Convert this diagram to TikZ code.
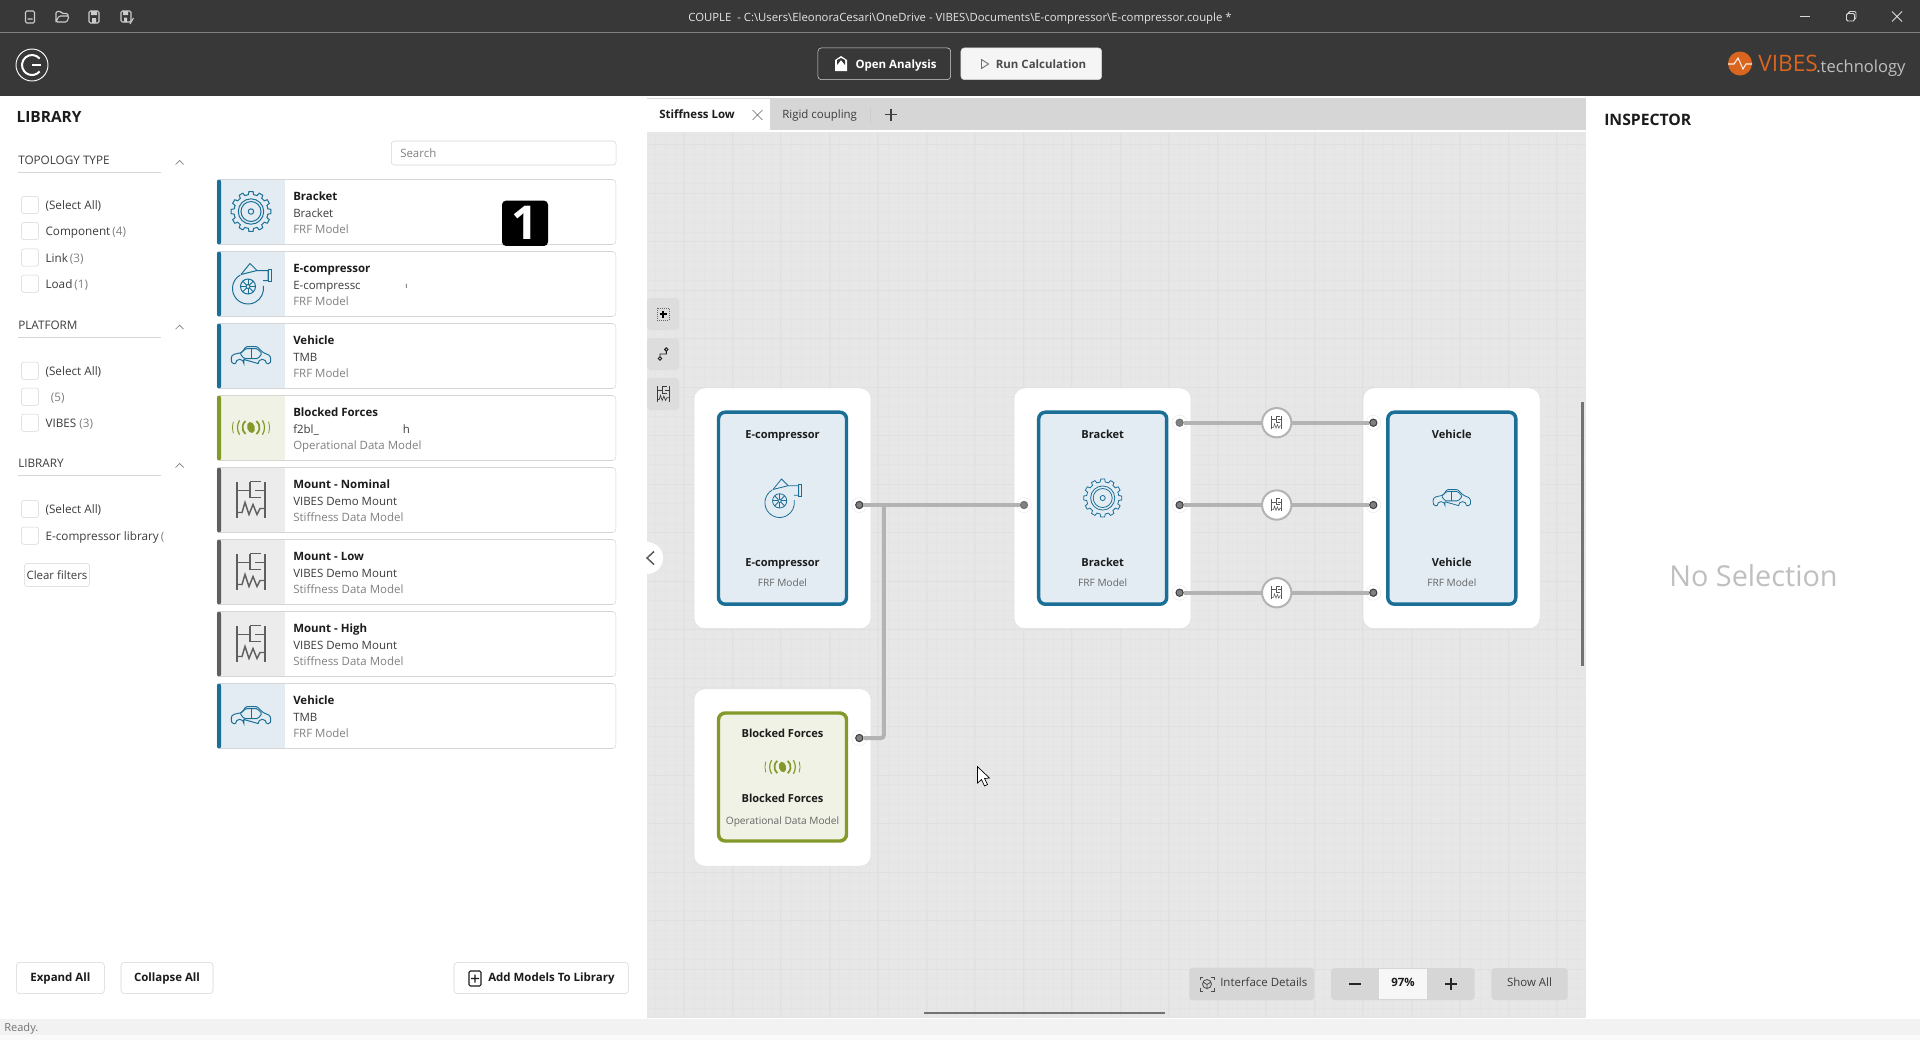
\documentclass[tikz,border=0pt]{standalone}
\usepackage{fontspec}
\setmainfont{Open Sans}
\definecolor{barc}{HTML}{383838}
\definecolor{canvasc}{HTML}{E7E7E7}
\definecolor{gridc}{HTML}{E4E4E4}
\definecolor{gridmaj}{HTML}{E0E0E0}
\definecolor{stripc}{HTML}{D6D6D6}
\definecolor{bluec}{HTML}{1B6F96}
\definecolor{bluebg}{HTML}{E3ECF3}
\definecolor{greenc}{HTML}{83992A}
\definecolor{greenbg}{HTML}{EFF2E4}
\definecolor{mountc}{HTML}{5F5F5F}
\definecolor{mountbg}{HTML}{ECECEC}
\definecolor{linec}{HTML}{D5D5D5}
\definecolor{wirec}{HTML}{B3B3B3}
\definecolor{greyc}{HTML}{808080}
\definecolor{inkc}{HTML}{1C1C1C}
\definecolor{subc}{HTML}{3C3C3C}
\definecolor{orangec}{HTML}{D9651F}
\tikzset{
  lbl/.style={inner sep=0pt, anchor=mid west, text=inkc},
  mid/.style={inner sep=0pt, anchor=mid, text=inkc},
  cardbox/.style={draw=linec, fill=white, rounded corners=2.5pt, minimum width=299pt, minimum height=48.75pt, inner sep=0pt},
  chkbox/.style={draw=linec, fill=white, rounded corners=2pt, minimum size=13pt, inner sep=0pt},
  btn/.style={draw=#1, rounded corners=2.5pt, inner sep=0pt, text=inkc},
  panelbox/.style={draw=gridmaj, fill=white, rounded corners=8pt, inner sep=0pt, minimum width=132.75pt},
  modelbox/.style={draw=#1, line width=2.6pt, rounded corners=5pt, inner sep=0pt, minimum width=96pt},
  portdot/.style={circle, fill=#1, draw=black!75, line width=.8pt, inner sep=0pt, minimum size=5.4pt},
  mountnode/.style={circle, draw=wirec, line width=1.5pt, fill=white, inner sep=0pt, minimum size=22pt},
  wire/.style={draw=wirec, line width=3pt},
  toolbtn/.style={fill=#1, rounded corners=2.5pt, inner sep=0pt, minimum width=24pt, minimum height=24pt},
  gearicon/.pic={
    \draw plot[domain=0:360, samples=121] (\x:{17+3*(cos(12*\x)>0)}) -- cycle;
    \draw (0,0) circle (12.7);
    \draw (0,0) circle (10);
    \draw (0,0) circle (2.7);
  },
  turboicon/.pic={
    \draw (-3,5) ++(-120:15.5) arc[start angle=-120, end angle=-370, radius=15.5];
    \draw (-10,-9) -- (-1,-20) -- (6,-13) -- (17,-13) -- (17,-3) -- (12,-3);
    \draw (-10,-9) -- (6,-13);
    \draw (17,-14.5) rectangle (20,-2);
    \draw (-3,3) circle (7.5);
    \draw (-3,3) circle (2);
    \foreach \a in {0,45,...,315} {\draw (-3,3) ++(\a:2) -- ++(\a:5.5);}
  },
  caricon/.pic={
    \draw[rounded corners=1pt] (-15.5,8) -- (-19,8) -- (-20,2) -- (-18,-1) -- (-9,-3) -- (-5,-9) -- (6,-9) -- (12,-3) -- (19,0) -- (20,5) -- (19,8) -- (15.5,8);
    \draw (15.5,8) arc[start angle=0, end angle=-180, radius=4.2] -- (-7.1,4) -- (-7.1,8) arc[start angle=0, end angle=-180, radius=4.2];
    \draw[rounded corners=1pt] (-11,-2) -- (-5,-7) -- (6,-7) -- (11,-2) -- (7,3) -- (-7,3) -- cycle;
    \draw (0,-7) -- (0,3);
  },
  wavesicon/.pic={
    \fill[rotate=15] (0,0) ellipse (3.8 and 5.6);
    \foreach \r/\w/\s in {8.5/1.3pt/50,13.5/.9pt/32,18.5/.6pt/18} {
      \draw[line width=\w] (180-\s:\r) arc[start angle=180-\s, end angle=180+\s, radius=\r];
      \draw[line width=\w] (-\s:\r) arc[start angle=-\s, end angle=\s, radius=\r];
    }
  },
  mounticon/.pic={
    \draw (-14,-18) -- (-14,18) (14,-18) -- (14,18);
    \draw (-14,-9) -- (-1,-9) (-1,-18) -- (10,-18) (-1,-18) -- (-1,-2) -- (10,-2) (4,-9) -- (14,-9);
    \draw (-14,13) -- (-9,13) -- (-6,3) -- (-2,15) -- (2,5) -- (6,15) -- (9,9) -- (14,9);
  },
}
\begin{document}
\begin{tikzpicture}[x=0.75pt, y=-0.75pt]
\useasboundingbox (0,0) rectangle (1920,1040);
\fill[white] (0,0) rectangle (1920,1040);
\fill[barc] (0,0) rectangle (1920,96);
\draw[greyc, line width=.7pt] (0,32) -- (1920,32);
\fill[black!5] (0,1019) rectangle (1920,1035);
\fill[black!2] (0,1035) rectangle (1920,1040);
\fill[canvasc] (647,132) rectangle (1586,1017);
\foreach \i in {1,...,96} {
  \draw[gridc, line width=.35pt] (645.7+\i*9.7,132) -- (645.7+\i*9.7,1017);
}
\foreach \i in {0,...,91} {
  \draw[gridc, line width=.35pt] (647,134.8+\i*9.7) -- (1586,134.8+\i*9.7);
}
\foreach \i in {0,...,18} {
  \draw[gridmaj, line width=.35pt] (683.7+\i*48.5,132) -- (683.7+\i*48.5,1017);
}
\foreach \i in {0,...,17} {
  \draw[gridmaj, line width=.35pt] (647,144.3+\i*48.5) -- (1586,144.3+\i*48.5);
}
\fill[stripc] (647,98) rectangle (1586,130);
\fill[white] (647,99) rectangle (770,130);
% title bar
\draw[white!80!black, line width=.8pt, rounded corners=1pt] (25.5,11) rectangle (34.5,23) (27.5,19) -- (32.5,19);
\draw[white!80!black, line width=.8pt, rounded corners=1pt] (56,22) -- (56,11.5) -- (61,11.5) -- (62,13.5) -- (68,13.5) -- (68,16) (56,22) -- (59,16) -- (69,16) -- (67,22) -- cycle;
\draw[white!80!black, line width=.8pt, rounded corners=1pt] (89,11) rectangle (99,23);
\fill[white!80!black] (91,11) rectangle (97,15) (92,18) rectangle (96,23);
\draw[white!80!black, line width=.8pt, rounded corners=1pt] (121,11) rectangle (131,22);
\fill[white!80!black] (123,11) rectangle (128,15) (124,17.5) rectangle (127,22);
\draw[white!80!black, line width=.8pt] (130,24) -- (133.5,18);
\node[mid, text=white!90!black, font=\fontsize{8.5}{11}\selectfont] (apptitle) at (960,18) {COUPLE\ \ - C:\textbackslash Users\textbackslash EleonoraCesari\textbackslash OneDrive - VIBES\textbackslash Documents\textbackslash E-compressor\textbackslash E-compressor.couple *};
\draw[white!85!black, line width=.8pt] (1800,16.5) -- (1810,16.5);
\draw[white!85!black, line width=.7pt, rounded corners=1pt] (1846.5,13.5) rectangle (1854.5,21) (1848.5,13) -- (1848.5,11.5) -- (1856,11.5) -- (1856,19) -- (1855,19);
\draw[white!85!black, line width=.7pt] (1892,11.5) -- (1902,21.5) (1892,21.5) -- (1902,11.5);
% header
\draw[white, line width=.7pt] (32,65) circle (16);
\draw[white, line width=1.5pt] (32,65) ++(-40:10) arc[start angle=-40, end angle=-320, radius=10];
\draw[white, line width=1.6pt] (32,65) -- (41,65);
\node[btn=white!85!black, minimum width=99.5pt, minimum height=23.8pt] (openbtn) at (884.3,63.8) {};
\fill[white] (835,71) -- (835,60) -- (841,56) -- (847,60) -- (847,71) -- cycle;
\fill[barc] (837,65) -- (841,60) -- (845,65) -- (845,60) -- (841,58) -- (837,60) -- cycle;
\node[mid, text=white, font=\bfseries\fontsize{8.6}{11}\selectfont] (opentxt) at (896,64.6) {Open Analysis};
\node[btn=white!85!black, fill=black!4, minimum width=105.5pt, minimum height=23.8pt] (runbtn) at (1031.3,63.8) {};
\draw[black!55, line width=.7pt] (981.5,59.5) -- (988.5,64) -- (981.5,68.5) -- cycle;
\node[mid, text=black!70, font=\bfseries\fontsize{8.6}{11}\selectfont] (runtxt) at (1041,64.6) {Run Calculation};
\fill[orangec] (1740,63.5) circle (12);
\draw[white!90!orangec, line width=.8pt] (1728,64) -- (1734,64) -- (1738,58) -- (1743,69) -- (1746,64) -- (1752,64);
\node[lbl, text=orangec, font=\fontsize{17}{20}\selectfont] (vibestxt) at (1758,67.5) {VIBES};
\node[lbl, text=white!75!black, font=\fontsize{12.4}{16}\selectfont] (techtxt) at (1816,69) {.technology};
% library panel
\node[lbl, font=\bfseries\fontsize{11.6}{14}\selectfont] (libtitle) at (16.3,119.4) {LIBRARY};
\foreach \i/\y/\t in {1/160/{TOPOLOGY TYPE},2/324.7/{PLATFORM},3/463/{LIBRARY}} {
  \node[lbl, text=subc, font=\fontsize{8.8}{11}\selectfont] (head\i) at (18,\y+.8) {\t};
  \draw[linec, line width=.7pt] (18,\y+12.7) -- (161,\y+12.7);
  \draw[greyc, line width=.5pt] (175.5,\y+4.5) -- (179.6,\y+0.5) -- (183.7,\y+4.5);
}
\foreach \i/\y/\t in {1/205/{(Select All)},2/231/{Component\,{\color{greyc}(4)}},3/257.5/{Link\,{\color{greyc}(3)}},4/283.7/{Load\,{\color{greyc}(1)}},5/370.7/{(Select All)},6/396.7/{\hspace{4pt}{\color{greyc}(5)}},7/422.7/{VIBES\ {\color{greyc}(3)}},8/509/{(Select All)},9/535.7/{E-compressor library}} {
  \node[chkbox] (chk\i) at (30,\y) {};
  \node[lbl, text=subc, font=\fontsize{8.8}{11}\selectfont] (chktxt\i) at (45.3,\y+1) {\t};
}
\node[mid, text=greyc, font=\fontsize{8.6}{11}\selectfont] (chktail) at (162.5,536.7) {(};
\node[btn=linec, minimum width=49pt, minimum height=17.5pt] (clearbtn) at (57,575) {};
\node[mid, text=subc, font=\fontsize{8.6}{11}\selectfont] (cleartxt) at (57,575.7) {Clear filters};
\node[btn=linec, minimum width=168.7pt, minimum height=18pt, anchor=west] (searchbox) at (391,153) {};
\node[lbl, text=greyc, font=\fontsize{8.6}{11}\selectfont] (searchtxt) at (400,154) {Search};
% cards
\foreach \i/\ty/\cc/\bg/\ic/\lw/\ttl/\sub/\typ in {
  1/179.5/bluec/bluebg/gearicon/.75pt/Bracket/Bracket/FRF Model,
  2/251.5/bluec/bluebg/turboicon/.75pt/E-compressor/E-compressc/FRF Model,
  3/323.5/bluec/bluebg/caricon/.75pt/Vehicle/TMB/FRF Model,
  4/395.5/greenc/greenbg/wavesicon/.75pt/Blocked Forces/f2bl\_/Operational Data Model,
  5/467.5/mountc/mountbg/mounticon/1.1pt/Mount - Nominal/VIBES Demo Mount/Stiffness Data Model,
  6/539.5/mountc/mountbg/mounticon/1.1pt/Mount - Low/VIBES Demo Mount/Stiffness Data Model,
  7/611.5/mountc/mountbg/mounticon/1.1pt/Mount - High/VIBES Demo Mount/Stiffness Data Model,
  8/683.5/bluec/bluebg/caricon/.75pt/Vehicle/TMB/FRF Model} {
  \node[cardbox] (card\i) at (416.5,\ty+32.5) {};
  \fill[\bg] (220,\ty+.5) rectangle (285,\ty+64.5);
  \fill[\cc, rounded corners=1.5pt] (217,\ty) rectangle (221,\ty+65);
  \pic[color=\cc, line width=\lw] at (251,\ty+32) {\ic};
  \node[lbl, font=\bfseries\fontsize{8.6}{11}\selectfont] (cardttl\i) at (293,\ty+17.5) {\ttl};
  \node[lbl, text=subc, font=\fontsize{8.6}{11}\selectfont] (cardsub\i) at (293,\ty+34) {\sub};
  \node[lbl, text=greyc, font=\fontsize{8.6}{11}\selectfont] (cardtyp\i) at (293,\ty+50) {\typ};
}
\node[mid, text=subc, font=\fontsize{6}{7}\selectfont] (subtail2) at (406.5,285) {ı};
\node[mid, text=subc, font=\fontsize{8.6}{11}\selectfont] (subtail4) at (406.5,429.5) {h};
\node[fill=black, rounded corners=3pt, inner sep=0pt, minimum width=34.5pt, minimum height=34pt, text=white, font=\bfseries\fontsize{35}{40}\selectfont] (badge) at (525,223.3) {1};
\node[btn=linec, minimum width=66pt, minimum height=23.5pt] (expandbtn) at (60.4,978) {};
\node[mid, font=\bfseries\fontsize{8.6}{11}\selectfont] (expandtxt) at (60.4,977.5) {Expand All};
\node[btn=linec, minimum width=69pt, minimum height=23.5pt] (collapsebtn) at (167,978) {};
\node[mid, font=\bfseries\fontsize{8.6}{11}\selectfont] (collapsetxt) at (167,977.5) {Collapse All};
\node[btn=linec, minimum width=130.8pt, minimum height=23.5pt] (addbtn) at (541.2,978) {};
\draw[inkc, line width=.8pt, rounded corners=1pt] (469,971) rectangle (481,986) (475,974.5) -- (475,982.5) (471,978.5) -- (479,978.5);
\node[lbl, font=\bfseries\fontsize{8.6}{11}\selectfont] (addtxt) at (488,977.5) {Add Models To Library};
\node[lbl, text=greyc!90!black, font=\fontsize{8.3}{10}\selectfont] (readytxt) at (4,1027.5) {Ready.};
% tabs
\node[lbl, font=\bfseries\fontsize{8.6}{11}\selectfont] (tabone) at (659,115) {Stiffness Low};
\draw[black!60, line width=.5pt] (752.5,110) -- (762.5,120) (752.5,120) -- (762.5,110);
\node[lbl, text=subc, font=\fontsize{8.6}{11}\selectfont] (tabtwo) at (782,115) {Rigid coupling};
\draw[black!20, line width=.6pt] (870.6,107) -- (870.6,124);
\draw[black!75, line width=.9pt] (891,108.5) -- (891,120.5) (885,114.5) -- (897,114.5);
% side tools
\foreach \y/\n in {314/a,354/b,394/c} {
  \node[toolbtn=stripc!60!canvasc] (tool\n) at (663,\y) {};
}
\draw[black!60, densely dotted, line width=.5pt] (657,308) rectangle (669,320);
\draw[black, line width=1pt] (663,310.5) -- (663,317.5) (659.5,314) -- (666.5,314);
\draw[inkc, line width=.7pt] (660,358.5) circle (1.7) (666.3,349.5) circle (1.7) (660,356.8) -- (660,354) -- (666.3,354) -- (666.3,351.2);
\pic[color=subc, line width=.5pt, scale=.42] at (663,394) {mounticon};
% blocks
\node[panelbox, minimum height=180.5pt] (ecompouter) at (782.5,508.3) {};
\node[panelbox, minimum height=180.5pt] (bracketouter) at (1102.5,508.3) {};
\node[panelbox, minimum height=180.5pt] (vehicleouter) at (1451.5,508.3) {};
\node[panelbox, minimum height=133pt] (blockedouter) at (782.5,777.5) {};
\node[modelbox=bluec, fill=bluebg, minimum height=144pt] (ecomp) at (782.5,508.2) {};
\node[modelbox=bluec, fill=bluebg, minimum height=144pt] (bracket) at (1102.7,508.2) {};
\node[modelbox=bluec, fill=bluebg, minimum height=144pt] (vehicle) at (1451.8,508.2) {};
\node[modelbox=greenc, fill=greenbg, minimum height=96pt] (blocked) at (782.5,777) {};
\foreach \n/\x/\ttl/\ic in {ecomp/782.5/E-compressor/turboicon,bracket/1102.7/Bracket/gearicon,vehicle/1451.8/Vehicle/caricon} {
  \node[mid, font=\bfseries\fontsize{8.3}{10}\selectfont] (\n top) at (\x,435) {\ttl};
  \pic[color=bluec, line width=.6pt, scale=.95] at (\x,498) {\ic};
  \node[mid, font=\bfseries\fontsize{8.3}{10}\selectfont] (\n low) at (\x,562.7) {\ttl};
  \node[mid, text=black!60, font=\fontsize{7.6}{9}\selectfont] (\n typ) at (\x,583) {FRF Model};
}
\node[mid, font=\bfseries\fontsize{8.3}{10}\selectfont] (blockedtop) at (782.5,734.3) {Blocked Forces};
\pic[color=greenc, line width=.6pt, scale=.95] at (782.5,767) {wavesicon};
\node[mid, font=\bfseries\fontsize{8.3}{10}\selectfont] (blockedlow) at (782.5,799.3) {Blocked Forces};
\node[mid, text=black!60, font=\fontsize{7.6}{9}\selectfont] (blockedtyp) at (782.5,821.3) {Operational Data Model};
% ports and wires
\foreach \x/\y in {859.3/505,859.3/738,1024/505,1179.6/422.7,1179.6/505,1179.6/592.7,1373.3/422.7,1373.3/505,1373.3/592.7} {
  \fill[white] (\x,\y) circle (7.5);
  \draw[black!8, line width=.4pt] (\x,\y) circle (7.5);
}
\node[portdot=black!50] (ecompout) at (859.3,505) {};
\node[portdot=black!50] (blockedout) at (859.3,738) {};
\node[portdot=black!50, draw=black!55] (bracketin) at (1024,505) {};
\node[portdot=black!50, draw=black!55] (bracketa) at (1179.6,422.7) {};
\node[portdot=black!50] (bracketb) at (1179.6,505) {};
\node[portdot=black!50] (bracketc) at (1179.6,592.7) {};
\node[portdot=black!50] (vehiclea) at (1373.3,422.7) {};
\node[portdot=black!50] (vehicleb) at (1373.3,505) {};
\node[portdot=black!50] (vehiclec) at (1373.3,592.7) {};
\coordinate (junc) at (883.8,505);
\draw[wire] (ecompout) -- (bracketin);
\draw[wire, rounded corners=2pt] (blockedout) -| (junc);
\foreach \n/\y/\a/\b in {a/422.7/bracketa/vehiclea,b/505/bracketb/vehicleb,c/592.7/bracketc/vehiclec} {
  \node[mountnode] (mount\n) at (1276.7,\y) {};
  \pic[color=black!65, line width=.4pt, scale=.36] at (1276.7,\y) {mounticon};
  \draw[wire] (\a) -- (mount\n);
  \draw[wire] (mount\n) -- (\b);
}
% collapse handle
\begin{scope}
\clip (630,530) rectangle (670,590);
\fill[white] (647,558) circle (16);
\end{scope}
\draw[black!65, line width=1.1pt] (654,551.5) -- (647,558) -- (654,564.5);
% scroll bars and cursor
\draw[black!55, line width=2.2pt] (1582.7,402) -- (1582.7,666);
\draw[black!55, line width=2.2pt] (924,1013) -- (1165,1013);
\draw[black, fill=white, line width=.5pt] (977.5,766.7) -- (977.5,783) -- (981.5,779.5) -- (984.5,786) -- (987.5,784.5) -- (984.5,778.5) -- (989.5,778) -- cycle;
% zoom bar
\node[toolbtn=stripc, minimum width=93.5pt, minimum height=24.5pt] (detailsbtn) at (1251.7,984) {};
\draw[black!70, line width=.6pt] (1207,984) circle (4.5) (1203,982) -- (1207,984.5) -- (1211,982) (1207,984.5) -- (1207,989);
\draw[black!70, line width=.6pt] (1200,980) -- (1200,977) -- (1203,977) (1211,977) -- (1214,977) -- (1214,980) (1214,988) -- (1214,991) -- (1211,991) (1203,991) -- (1200,991) -- (1200,988);
\node[lbl, text=subc, font=\fontsize{8.6}{11}\selectfont] (detailstxt) at (1220,983.4) {Interface Details};
\node[toolbtn=stripc, minimum width=107.7pt, minimum height=24pt] (zoomgrp) at (1402.8,984) {};
\fill[black!3] (1379,969) rectangle (1427,999);
\node[mid, font=\bfseries\fontsize{8.6}{11}\selectfont] (zoomtxt) at (1403,983.4) {97\%};
\draw[black!85, line width=1.1pt] (1349,984) -- (1361,984) (1445,984) -- (1457,984) (1451,978) -- (1451,990);
\node[toolbtn=stripc, minimum width=57.3pt, minimum height=24pt] (showbtn) at (1529.5,984) {};
\node[mid, text=subc, font=\fontsize{8.6}{11}\selectfont] (showtxt) at (1529.5,983.4) {Show All};
% inspector
\node[lbl, font=\bfseries\fontsize{11.8}{14}\selectfont] (insptitle) at (1604,122.4) {INSPECTOR};
\node[mid, text=black!25, font=\fontsize{21.6}{26}\selectfont] (nosel) at (1753.5,583) {No Selection};
\end{tikzpicture}
\end{document}
